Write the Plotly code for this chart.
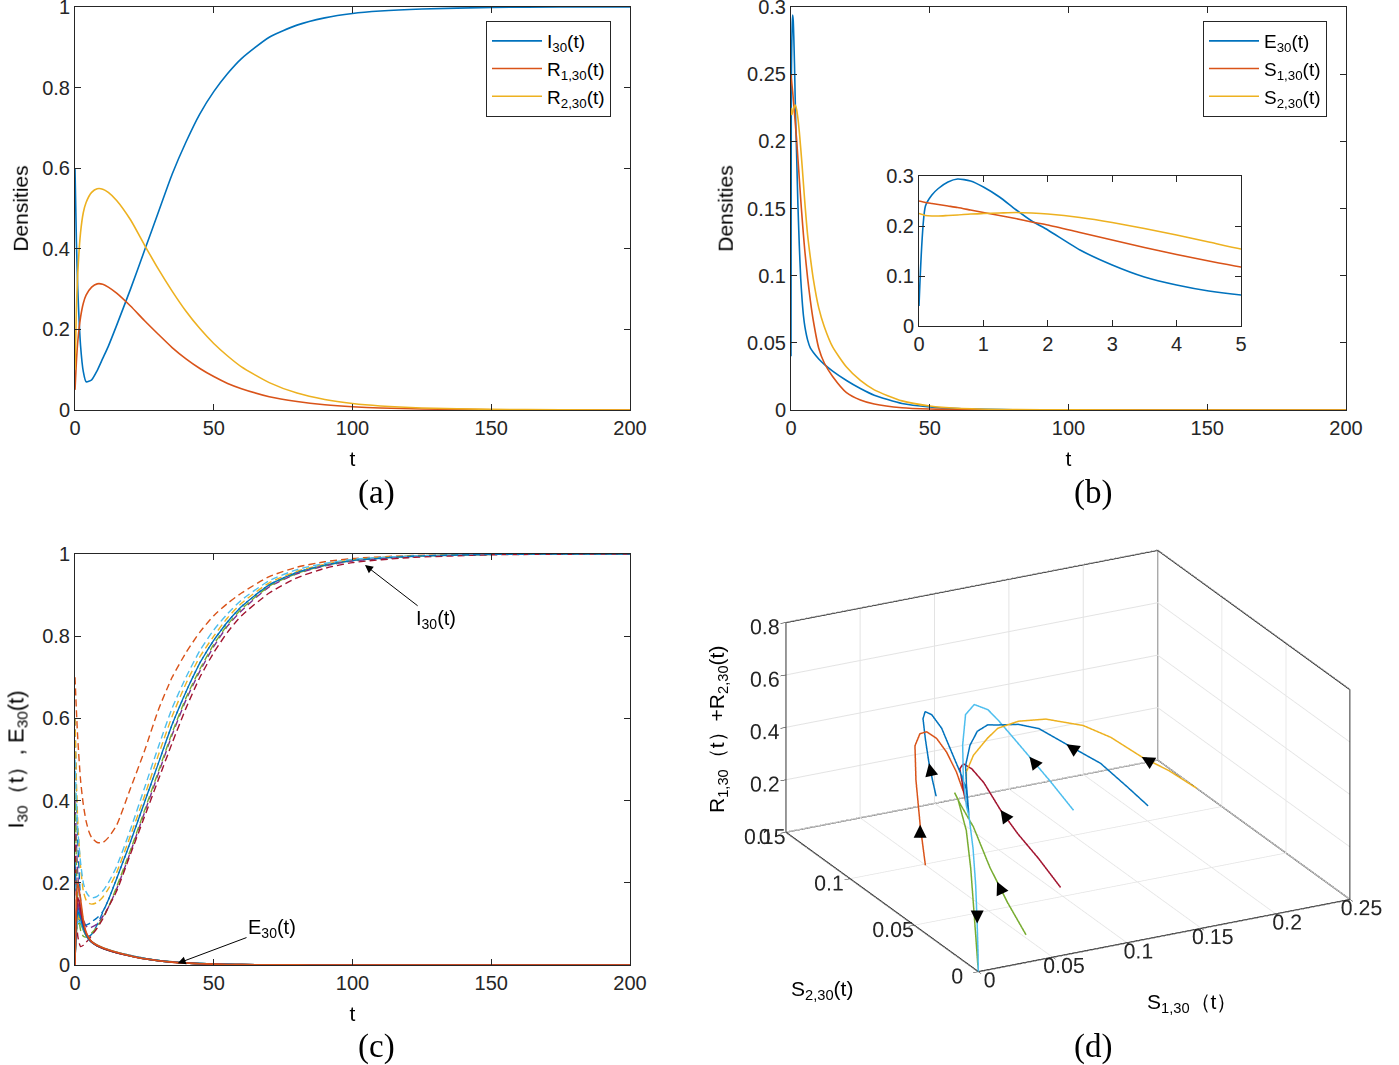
import plotly.graph_objects as go

W, H = 1399, 1065
OFF = 0  # body margin removed by post_script
BLUE = "#0072BD"; ORANGE = "#D95319"; YELLOW = "#EDB120"; PURPLE = "#7E2F8E"
GREEN = "#77AC30"; LBLUE = "#4DBEEE"; DRED = "#A2142F"
AXC = "#262626"
FONT = "Liberation Sans"
SERIF = "Liberation Serif"

# ---------------- Panel (a) data ----------------
a_t = [0, 0.5, 1, 2, 3, 4, 6, 8, 10, 12, 15, 20, 25, 30, 35, 40, 45, 50, 55, 60, 70, 80, 90, 100, 110, 125, 150, 175, 200]
a_I = [0.60, 0.42, 0.30, 0.16, 0.095, 0.07, 0.075, 0.098, 0.128, 0.158, 0.21, 0.30, 0.395, 0.49, 0.585, 0.665, 0.735, 0.79,
       0.835, 0.872, 0.925, 0.955, 0.973, 0.984, 0.99, 0.995, 0.999, 1.0, 1.0]
a_R1 = [0.05, 0.12, 0.17, 0.23, 0.265, 0.285, 0.305, 0.313, 0.312, 0.305, 0.29, 0.258, 0.222, 0.188, 0.155, 0.127, 0.103,
        0.083, 0.066, 0.053, 0.033, 0.021, 0.013, 0.008, 0.005, 0.0025, 0.0007, 0.0002, 0.0]
a_R2 = [0.10, 0.25, 0.34, 0.44, 0.49, 0.515, 0.54, 0.549, 0.548, 0.54, 0.52, 0.472, 0.41, 0.35, 0.295, 0.245, 0.202, 0.165,
        0.134, 0.107, 0.068, 0.042, 0.026, 0.016, 0.01, 0.005, 0.0015, 0.0004, 0.0]

# ---------------- Panel (b) data ----------------
b_t = [0, 0.1, 0.2, 0.3, 0.45, 0.6, 0.8, 1, 1.25, 1.5, 1.75, 2, 2.5, 3, 3.5, 4, 4.5, 5, 6, 7, 8, 10, 12, 15, 20, 25, 30,
       40, 50, 60, 80, 100, 150, 200]
b_E = [0.04, 0.24, 0.262, 0.275, 0.288, 0.294, 0.29, 0.278, 0.258, 0.233, 0.21, 0.192, 0.152, 0.122, 0.098, 0.082, 0.07,
       0.062, 0.052, 0.046, 0.043, 0.038, 0.034, 0.029, 0.022, 0.016, 0.011, 0.0048, 0.0022, 0.001, 0.0002, 0.00005, 0, 0]
b_S1 = [0.25, 0.247, 0.245, 0.243, 0.240, 0.237, 0.232, 0.227, 0.221, 0.215, 0.208, 0.202, 0.187, 0.172, 0.157, 0.143,
        0.130, 0.118, 0.098, 0.081, 0.067, 0.046, 0.035, 0.025, 0.013, 0.0075, 0.0045, 0.0017, 0.0007, 0.0003, 0.00005,
        0, 0, 0]
b_S2 = [0.225, 0.221, 0.220, 0.220, 0.221, 0.222, 0.224, 0.225, 0.226, 0.227, 0.226, 0.224, 0.217, 0.207, 0.195, 0.182,
        0.168, 0.154, 0.130, 0.113, 0.098, 0.076, 0.062, 0.047, 0.032, 0.022, 0.015, 0.0068, 0.003, 0.0013, 0.0003,
        0.0001, 0, 0]

# ---------------- Panel (c) data ----------------
c_t = [0, 0.5, 1, 2, 3, 4, 5, 6, 8, 10, 12, 15, 20, 25, 30, 35, 40, 45, 50, 55, 60, 70, 80, 90, 100, 120, 150, 200]
c_colors = [BLUE, ORANGE, YELLOW, PURPLE, GREEN, LBLUE, DRED, BLUE]
c_I = [
    [0.60, 0.42, 0.30, 0.16, 0.095, 0.07, 0.07, 0.075, 0.098, 0.128, 0.158, 0.21, 0.30, 0.395, 0.49, 0.585, 0.665, 0.735, 0.79, 0.835, 0.872, 0.925, 0.955, 0.973, 0.984, 0.994, 0.999, 1.0],
    [0.70, 0.62, 0.55, 0.45, 0.39, 0.35, 0.325, 0.31, 0.298, 0.298, 0.31, 0.34, 0.43, 0.52, 0.62, 0.70, 0.76, 0.81, 0.85, 0.88, 0.905, 0.945, 0.968, 0.981, 0.989, 0.996, 0.999, 1.0],
    [0.60, 0.45, 0.35, 0.24, 0.18, 0.158, 0.15, 0.148, 0.152, 0.165, 0.185, 0.225, 0.315, 0.41, 0.51, 0.605, 0.685, 0.75, 0.80, 0.845, 0.88, 0.93, 0.958, 0.975, 0.986, 0.995, 0.999, 1.0],
    [0.40, 0.30, 0.22, 0.14, 0.11, 0.095, 0.09, 0.092, 0.10, 0.118, 0.14, 0.185, 0.275, 0.37, 0.465, 0.56, 0.645, 0.715, 0.775, 0.825, 0.862, 0.92, 0.952, 0.971, 0.983, 0.993, 0.999, 1.0],
    [0.42, 0.25, 0.15, 0.085, 0.07, 0.068, 0.072, 0.078, 0.093, 0.115, 0.14, 0.19, 0.28, 0.375, 0.47, 0.565, 0.65, 0.72, 0.78, 0.828, 0.866, 0.922, 0.953, 0.972, 0.984, 0.994, 0.999, 1.0],
    [0.50, 0.40, 0.33, 0.25, 0.20, 0.178, 0.168, 0.163, 0.167, 0.18, 0.20, 0.24, 0.33, 0.43, 0.53, 0.625, 0.70, 0.765, 0.815, 0.855, 0.888, 0.935, 0.962, 0.977, 0.987, 0.995, 0.999, 1.0],
    [0.32, 0.15, 0.07, 0.045, 0.048, 0.055, 0.063, 0.072, 0.09, 0.112, 0.14, 0.18, 0.27, 0.36, 0.45, 0.54, 0.625, 0.70, 0.76, 0.81, 0.85, 0.905, 0.942, 0.965, 0.979, 0.991, 0.998, 1.0],
    [0.25, 0.17, 0.13, 0.10, 0.095, 0.097, 0.10, 0.105, 0.115, 0.13, 0.158, 0.21, 0.30, 0.395, 0.49, 0.585, 0.665, 0.735, 0.79, 0.835, 0.872, 0.925, 0.955, 0.973, 0.984, 0.994, 0.999, 1.0],
]
c_E = [
    [0.02, 0.11, 0.14, 0.12, 0.09, 0.072, 0.062, 0.055, 0.047, 0.041, 0.037, 0.031, 0.023, 0.016, 0.011, 0.0075, 0.005, 0.0033, 0.0022, 0.0014, 0.0009, 0.0004, 0.0002, 0.0001, 0, 0, 0, 0],
    [0.0, 0.16, 0.20, 0.16, 0.11, 0.08, 0.066, 0.057, 0.048, 0.042, 0.037, 0.031, 0.022, 0.015, 0.0105, 0.007, 0.0048, 0.0032, 0.0021, 0.0013, 0.0009, 0.0004, 0.0002, 0.0001, 0, 0, 0, 0],
    [0.02, 0.09, 0.115, 0.11, 0.09, 0.075, 0.065, 0.057, 0.048, 0.042, 0.037, 0.031, 0.023, 0.016, 0.011, 0.0075, 0.005, 0.0033, 0.0022, 0.0014, 0.0009, 0.0004, 0.0002, 0.0001, 0, 0, 0, 0],
    [0.01, 0.12, 0.15, 0.125, 0.095, 0.075, 0.064, 0.056, 0.047, 0.041, 0.036, 0.030, 0.022, 0.0155, 0.0107, 0.0073, 0.0049, 0.0033, 0.0022, 0.0014, 0.0009, 0.0004, 0.0002, 0.0001, 0, 0, 0, 0],
    [0.02, 0.08, 0.10, 0.10, 0.085, 0.072, 0.063, 0.056, 0.047, 0.041, 0.036, 0.030, 0.022, 0.0155, 0.0107, 0.0073, 0.0049, 0.0033, 0.0022, 0.0014, 0.0009, 0.0004, 0.0002, 0.0001, 0, 0, 0, 0],
    [0.02, 0.085, 0.105, 0.105, 0.088, 0.074, 0.064, 0.057, 0.048, 0.042, 0.037, 0.031, 0.023, 0.016, 0.011, 0.0075, 0.005, 0.0033, 0.0022, 0.0014, 0.0009, 0.0004, 0.0002, 0.0001, 0, 0, 0, 0],
    [0.0, 0.13, 0.165, 0.135, 0.10, 0.078, 0.065, 0.056, 0.047, 0.041, 0.036, 0.030, 0.022, 0.015, 0.0105, 0.007, 0.0048, 0.0032, 0.0021, 0.0013, 0.0009, 0.0004, 0.0002, 0.0001, 0, 0, 0, 0],
    [0.01, 0.10, 0.13, 0.115, 0.09, 0.073, 0.063, 0.056, 0.047, 0.041, 0.036, 0.030, 0.022, 0.0155, 0.0107, 0.0073, 0.0049, 0.0033, 0.0022, 0.0014, 0.0009, 0.0004, 0.0002, 0.0001, 0, 0, 0, 0],
]
c_E_order = [0, 2, 3, 4, 5, 7, 6, 1]

# ---------------- Panel (d) data: trajectories (S1, S2, R1+R2) ----------------
TAIL_S1 = [0.0015, 0.0008, 0.0004, 0.0001, 0.0, 0.0]
TAIL_S2 = [0.009, 0.005, 0.0025, 0.001, 0.0002, 0.0]
TAIL_R = [0.56, 0.45, 0.32, 0.18, 0.07, 0.0]

d_orange_S1 = [0.0306, 0.0249, 0.0208, 0.0185, 0.0175, 0.016, 0.013, 0.010, 0.006, 0.003]
d_orange_S2 = [0.0767, 0.0742, 0.0727, 0.0708, 0.0658, 0.0588, 0.0476, 0.0364, 0.0240, 0.0149]
d_orange_R = [0.10, 0.27, 0.45, 0.59, 0.655, 0.689, 0.707, 0.698, 0.670, 0.628]

d_blueL_S1 = [0.06, 0.05, 0.042, 0.035, 0.029, 0.025, 0.021, 0.016, 0.011, 0.006, 0.003]
d_blueL_S2 = [0.1024, 0.0936, 0.0871, 0.0818, 0.0767, 0.0704, 0.0606, 0.0471, 0.0336, 0.0201, 0.0128]
d_blueL_R = [0.24, 0.342, 0.44, 0.558, 0.661, 0.715, 0.742, 0.744, 0.707, 0.671, 0.648]

d_lblue_S1 = [0.1494, 0.1296, 0.1077, 0.0886, 0.0718, 0.0587, 0.0476, 0.0337, 0.0157, 0.0028, 0.0007]
d_lblue_S2 = [0.0990, 0.0943, 0.0850, 0.0766, 0.0677, 0.0605, 0.0583, 0.0490, 0.0304, 0.0149, 0.0101]
d_lblue_R = [0.10, 0.25, 0.40, 0.53, 0.64, 0.72, 0.76, 0.77, 0.74, 0.68, 0.595]

d_blueR_S1 = [0.1922, 0.1719, 0.1444, 0.1134, 0.0911, 0.0737, 0.0567, 0.0474, 0.0373, 0.0250, 0.0117, 0.0045]
d_blueR_S2 = [0.0905, 0.0824, 0.0721, 0.0628, 0.0583, 0.0542, 0.0504, 0.0477, 0.0440, 0.0355, 0.0235, 0.0145]
d_blueR_R = [0.10, 0.22, 0.38, 0.52, 0.62, 0.67, 0.70, 0.72, 0.72, 0.71, 0.69, 0.66]

d_yellow_S1 = [0.2308, 0.2060, 0.1805, 0.1535, 0.1264, 0.0940, 0.0703, 0.0523, 0.0394, 0.0216, 0.0096, 0.0046]
d_yellow_S2 = [0.0974, 0.0900, 0.0819, 0.0746, 0.0648, 0.0564, 0.0502, 0.0454, 0.0386, 0.0288, 0.0204, 0.0146]
d_yellow_R = [0.10, 0.22, 0.33, 0.46, 0.57, 0.66, 0.70, 0.71, 0.71, 0.70, 0.68, 0.64]

d_dred_S1 = [0.0861, 0.0669, 0.0528, 0.0399, 0.0300, 0.0203, 0.0138, 0.0083, 0.0029]
d_dred_S2 = [0.0357, 0.0308, 0.0304, 0.0289, 0.0305, 0.0286, 0.0277, 0.0240, 0.0151]
d_dred_R = [0.10, 0.25, 0.36, 0.47, 0.58, 0.65, 0.68, 0.68, 0.64]

d_green_S1 = [0.0427, 0.0317, 0.0260, 0.0208, 0.0132, 0.0043, 0.0034, 0.0010, 0.0010, 0.0010, 0.0008, 0.0]
d_green_S2 = [0.0123, 0.0141, 0.0155, 0.0149, 0.0191, 0.0196, 0.0224, 0.0170, 0.0105, 0.0071, 0.0041, 0.0]
d_green_R = [0.05, 0.18, 0.26, 0.32, 0.47, 0.57, 0.60, 0.596, 0.50, 0.37, 0.20, 0.0]

X_RANGE = [0, 0.25]
Y_RANGE = [0, 0.15]
Z_RANGE = [0, 0.8]

fig = go.Figure()


def line(x, y, color, xa, ya, name=None, dash=None, width=1.6, showlegend=False, legend=None):
    fig.add_trace(go.Scatter(x=x, y=y, mode="lines", name=name,
                             line=dict(color=color, width=width, dash=dash, shape="spline", smoothing=0.6),
                             xaxis=xa, yaxis=ya, showlegend=showlegend, legend=legend, hoverinfo="skip"))


# (a)
line(a_t, a_I, BLUE, "x", "y", "I<sub>30</sub>(t)", showlegend=True, legend="legend")
line(a_t, a_R1, ORANGE, "x", "y", "R<sub>1,30</sub>(t)", showlegend=True, legend="legend")
line(a_t, a_R2, YELLOW, "x", "y", "R<sub>2,30</sub>(t)", showlegend=True, legend="legend")

# (b) main + inset
line(b_t, b_E, BLUE, "x2", "y2", "E<sub>30</sub>(t)", showlegend=True, legend="legend2")
line(b_t, b_S1, ORANGE, "x2", "y2", "S<sub>1,30</sub>(t)", showlegend=True, legend="legend2")
line(b_t, b_S2, YELLOW, "x2", "y2", "S<sub>2,30</sub>(t)", showlegend=True, legend="legend2")
line(b_t, b_E, BLUE, "x4", "y4")
line(b_t, b_S1, ORANGE, "x4", "y4")
line(b_t, b_S2, YELLOW, "x4", "y4")

# (c)
for k, vals in enumerate(c_I):
    line(c_t, vals, c_colors[k], "x3", "y3", dash="7px,4px", width=1.4)
for k in c_E_order:
    line(c_t, c_E[k], c_colors[k], "x3", "y3", width=1.6)

# (d) 3-D trajectories
traj = [
    (d_orange_S1 + TAIL_S1, d_orange_S2 + TAIL_S2, d_orange_R + TAIL_R, ORANGE),
    (d_blueL_S1 + TAIL_S1, d_blueL_S2 + TAIL_S2, d_blueL_R + TAIL_R, BLUE),
    (d_dred_S1 + TAIL_S1, d_dred_S2 + TAIL_S2, d_dred_R + TAIL_R, DRED),
    (d_green_S1, d_green_S2, d_green_R, GREEN),
    (d_blueR_S1 + TAIL_S1, d_blueR_S2 + TAIL_S2, d_blueR_R + TAIL_R, BLUE),
    (d_yellow_S1 + TAIL_S1, d_yellow_S2 + TAIL_S2, d_yellow_R + TAIL_R, YELLOW),
    (d_lblue_S1 + TAIL_S1, d_lblue_S2 + TAIL_S2, d_lblue_R + TAIL_R, LBLUE),
]
for sx, sy, sz, col in traj:
    fig.add_trace(go.Scatter3d(x=sx, y=sy, z=sz, mode="lines", line=dict(color=col, width=3),
                               showlegend=False, hoverinfo="skip", scene="scene"))

# 3-D box edges (back three faces), from the axis limits
X0, X1 = X_RANGE; Y0, Y1 = Y_RANGE; Z0, Z1 = Z_RANGE
edges = [((X0, Y0, Z0), (X1, Y0, Z0)), ((X0, Y0, Z0), (X0, Y1, Z0)), ((X0, Y1, Z0), (X0, Y1, Z1)),
         ((X0, Y1, Z1), (X1, Y1, Z1)), ((X1, Y1, Z1), (X1, Y1, Z0)), ((X1, Y1, Z1), (X1, Y0, Z1)),
         ((X1, Y0, Z1), (X1, Y0, Z0)), ((X0, Y1, Z0), (X1, Y1, Z0)), ((X1, Y1, Z0), (X1, Y0, Z0))]
ex, ey, ez = [], [], []
for p, q in edges:
    ex += [p[0], q[0], None]; ey += [p[1], q[1], None]; ez += [p[2], q[2], None]
fig.add_trace(go.Scatter3d(x=ex, y=ey, z=ez, mode="lines", line=dict(color="black", width=2.5),
                           showlegend=False, hoverinfo="skip", scene="scene"))

# arrowheads on trajectories (index into data, pixel offset = tail direction)
arrow_specs = [
    (d_orange_S1, d_orange_S2, d_orange_R, 1, 0, 14),
    (d_blueL_S1, d_blueL_S2, d_blueL_R, 2, 3, 14),
    (d_lblue_S1, d_lblue_S2, d_lblue_R, 2, 9, 11),
    (d_blueR_S1, d_blueR_S2, d_blueR_R, 3, 12, 8),
    (d_yellow_S1, d_yellow_S2, d_yellow_R, 2, 12, 7),
    (d_dred_S1, d_dred_S2, d_dred_R, 3, 8, 11),
    (d_green_S1, d_green_S2, d_green_R, 2, 6, 13),
    (TAIL_S1, TAIL_S2, TAIL_R, 3, 0, -14),
]
scene_ann = []
for s1, s2, r, i, ax, ay in arrow_specs:
    scene_ann.append(dict(x=s1[i], y=s2[i], z=r[i], text="", showarrow=True, arrowhead=2, arrowsize=2.0,
                          arrowwidth=1.3, arrowcolor="black", ax=ax, ay=ay))


def clamp(v):
    return min(1.0, max(0.0, v))


def xdom(p0, p1):
    return [clamp((p0 - OFF) / W), clamp((p1 - OFF) / W)]


def ydom(p0, p1):
    return [clamp(1 - (p1 - OFF) / H), clamp(1 - (p0 - OFF) / H)]


def px(p):
    return (p - OFF) / W


def py(p):
    return 1 - (p - OFF) / H


axis_common = dict(showline=True, linecolor=AXC, linewidth=1, mirror="ticks", ticks="inside", ticklen=6,
                   tickcolor=AXC, tickwidth=1, showgrid=False, zeroline=False, automargin=False,
                   ticklabeloverflow="allow",
                   tickfont=dict(family=FONT, size=20, color=AXC))
tfont = dict(family=FONT, size=21, color="black")
lfont = dict(family=FONT, size=19, color="black")
font3d = dict(family=FONT, size=16, color=AXC)

fig.update_layout(
    width=W, height=H, margin=dict(l=0, r=0, t=0, b=0, autoexpand=False),
    paper_bgcolor="white", plot_bgcolor="white",
    font=dict(family=FONT, color=AXC),
    xaxis=dict(domain=xdom(75, 630), range=[0, 200], tickvals=[0, 50, 100, 150, 200],
               title=dict(text="t", font=tfont, standoff=13), anchor="y", **axis_common),
    yaxis=dict(domain=ydom(7, 410), range=[0, 1], tickvals=[0, 0.2, 0.4, 0.6, 0.8, 1],
               ticktext=["0", "0.2", "0.4", "0.6", "0.8", "1"],
               title=dict(text="Densities", font=tfont, standoff=8), anchor="x", **axis_common),
    xaxis2=dict(domain=xdom(791, 1346), range=[0, 200], tickvals=[0, 50, 100, 150, 200],
                title=dict(text="t", font=tfont, standoff=13), anchor="y2", **axis_common),
    yaxis2=dict(domain=ydom(7, 410), range=[0, 0.3], tickvals=[0, 0.05, 0.1, 0.15, 0.2, 0.25, 0.3],
                ticktext=["0", "0.05", "0.1", "0.15", "0.2", "0.25", "0.3"],
                title=dict(text="Densities", font=tfont, standoff=8), anchor="x2", **axis_common),
    xaxis3=dict(domain=xdom(75, 630), range=[0, 200], tickvals=[0, 50, 100, 150, 200],
                title=dict(text="t", font=tfont, standoff=13), anchor="y3", **axis_common),
    yaxis3=dict(domain=ydom(554, 965), range=[0, 1], tickvals=[0, 0.2, 0.4, 0.6, 0.8, 1],
                ticktext=["0", "0.2", "0.4", "0.6", "0.8", "1"],
                title=dict(text="I<sub>30</sub>（t）, E<sub>30</sub>(t)", font=dict(family=FONT, size=22, color="black"),
                           standoff=12),
                anchor="x3", **axis_common),
    xaxis4=dict(domain=xdom(919, 1241), range=[0, 5], tickvals=[0, 1, 2, 3, 4, 5], anchor="y4", **axis_common),
    yaxis4=dict(domain=ydom(176, 326), range=[0, 0.3], tickvals=[0, 0.1, 0.2, 0.3],
                ticktext=["0", "0.1", "0.2", "0.3"], anchor="x4", **axis_common),
    legend=dict(x=px(486), y=py(21), xanchor="left", yanchor="top", bgcolor="white",
                bordercolor=AXC, borderwidth=1, font=lfont, tracegroupgap=0, itemwidth=50),
    legend2=dict(x=px(1203), y=py(21), xanchor="left", yanchor="top", bgcolor="white",
                 bordercolor=AXC, borderwidth=1, font=lfont, tracegroupgap=0, itemwidth=50),
    scene=dict(
        domain=dict(x=xdom(737, 1399), y=ydom(511, 1011)),
        aspectmode="manual", aspectratio=dict(x=1.675, y=1.675, z=0.905),
        camera=dict(projection=dict(type="orthographic"), up=dict(x=0, y=0, z=1),
                    center=dict(x=0, y=0, z=0), eye=dict(x=-0.852, y=-1.646, z=0.75)),
        xaxis=dict(range=X_RANGE, tickvals=[0, 0.05, 0.1, 0.15, 0.2, 0.25],
                   ticktext=["0", "0.05", "0.1", "0.15", "0.2", "0.25"], title=dict(text=""),
                   showbackground=False, gridcolor="#e3e3e3", showline=False, zeroline=False,
                   ticks="outside", ticklen=6, tickcolor="black", showspikes=False, tickangle=0,
                   tickfont=font3d),
        yaxis=dict(range=Y_RANGE, tickvals=[0, 0.05, 0.1, 0.15], ticktext=["0", "0.05", "0.1", "0.15"],
                   title=dict(text=""), showbackground=False, gridcolor="#e3e3e3", showline=False,
                   zeroline=False, ticks="outside", ticklen=6, tickcolor="black", showspikes=False, tickangle=0,
                   tickfont=font3d),
        zaxis=dict(range=Z_RANGE, tickvals=[0, 0.2, 0.4, 0.6, 0.8], ticktext=["0", "0.2", "0.4", "0.6", "0.8"],
                   title=dict(text=""), showbackground=False, gridcolor="#e3e3e3", showline=False,
                   zeroline=False, ticks="outside", ticklen=6, tickcolor="black", showspikes=False, tickangle=0,
                   tickfont=font3d),
        annotations=scene_ann,
    ),
)

ann = [
    dict(x=px(376), y=py(492), text="(a)"),
    dict(x=px(1093), y=py(492), text="(b)"),
    dict(x=px(376), y=py(1046), text="(c)"),
    dict(x=px(1093), y=py(1046), text="(d)"),
]
for a in ann:
    fig.add_annotation(xref="paper", yref="paper", showarrow=False, xanchor="center", yanchor="middle",
                       font=dict(family=SERIF, size=33, color="black"), **a)

# (c) callouts
fig.add_annotation(xref="x3", yref="y3", axref="x3", ayref="y3", x=104.5, y=0.973, ax=130, ay=0.84,
                   text="I<sub>30</sub>(t)", showarrow=True, arrowhead=2, arrowsize=1.6, arrowwidth=1,
                   arrowcolor="black", font=dict(family=FONT, size=20, color="black"))
fig.add_annotation(xref="x3", yref="y3", axref="x3", ayref="y3", x=37, y=0.004, ax=71, ay=0.09,
                   text="E<sub>30</sub>(t)", showarrow=True, arrowhead=2, arrowsize=1.6, arrowwidth=1,
                   arrowcolor="black", font=dict(family=FONT, size=20, color="black"))

# (d) axis titles
t3 = dict(family=FONT, size=21, color="black")
fig.add_annotation(xref="paper", yref="paper", x=px(718), y=py(730), textangle=-90, showarrow=False,
                   xanchor="center", yanchor="middle",
                   text="R<sub>1,30</sub>（t）+R<sub>2,30</sub>(t)", font=t3)
fig.add_annotation(xref="paper", yref="paper", x=px(822), y=py(990), showarrow=False,
                   xanchor="center", yanchor="middle", text="S<sub>2,30</sub>(t)", font=t3)
fig.add_annotation(xref="paper", yref="paper", x=px(1192), y=py(1003), showarrow=False,
                   xanchor="center", yanchor="middle", text="S<sub>1,30</sub>（t）", font=t3)

fig.write_html("out.html", config={"displayModeBar": False},
               post_script="document.body.style.margin='0';document.body.style.overflow='hidden';")
